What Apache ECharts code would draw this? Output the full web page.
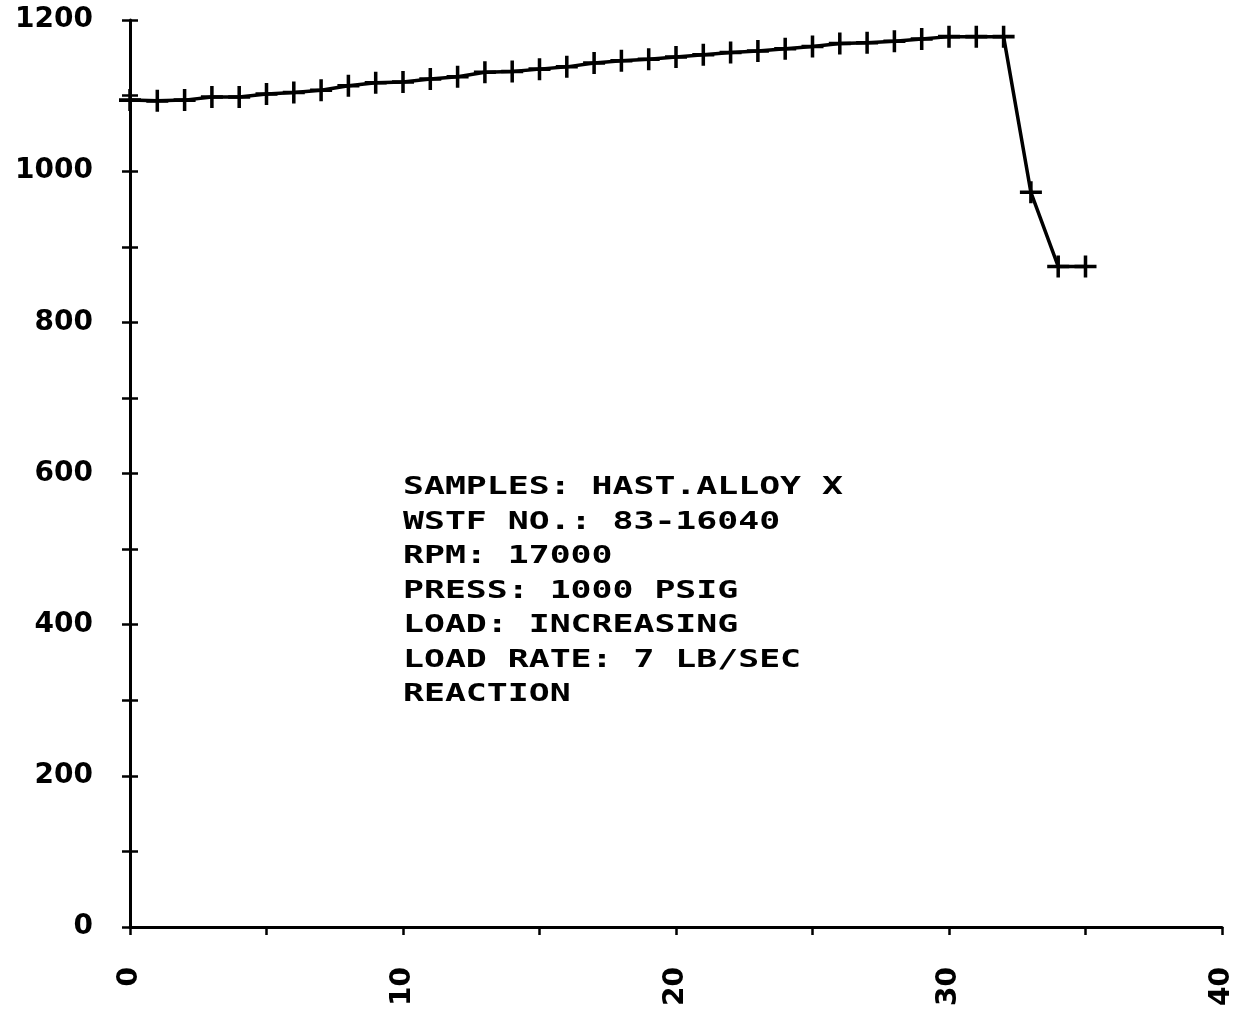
<!DOCTYPE html>
<html>
<head>
<meta charset="utf-8">
<title>Hastelloy X reaction</title>
<script src="https://cdn.jsdelivr.net/npm/echarts@6/dist/echarts.min.js"></script>
<style>
  html, body { margin: 0; padding: 0; background: #fff; }
  #chart { width: 1247px; height: 1014px; }
</style>
</head>
<body>
<div id="chart"></div>
<script>
// readings, one per step
const xValues = [0, 1, 2, 3, 4, 5, 6, 7, 8, 9, 10, 11, 12, 13, 14, 15, 16, 17,
                 18, 19, 20, 21, 22, 23, 24, 25, 26, 27, 28, 29, 30, 31, 32, 33, 34, 35];
const yValues = [1094, 1093, 1094, 1098, 1098, 1102, 1104, 1107, 1113, 1117, 1118, 1122,
                 1125, 1131, 1132, 1135, 1138, 1143, 1146, 1148, 1151, 1154, 1157, 1159,
                 1162, 1165, 1169, 1170, 1172, 1175, 1178, 1178, 1178, 972, 874, 874];

const xTickLabels = [0, 10, 20, 30, 40];
const yTickLabels = [0, 200, 400, 600, 800, 1000, 1200];

const noteLines = [
    'SAMPLES: HAST.ALLOY X',
    'WSTF NO.: 83-16040',
    'RPM: 17000',
    'PRESS: 1000 PSIG',
    'LOAD: INCREASING',
    'LOAD RATE: 7 LB/SEC',
    'REACTION'
];

const labelFont = {
    color: '#000',
    fontFamily: 'DejaVu Sans',
    fontWeight: 'bold',
    fontSize: 28
};

const chart = echarts.init(document.getElementById('chart'));

chart.setOption({
    animation: false,
    backgroundColor: '#fff',
    grid: { left: 130, right: 25, top: 20, bottom: 87, containLabel: false },
    xAxis: {
        type: 'value',
        min: 0,
        max: 40,
        interval: 5,
        splitLine: { show: false },
        axisLine: { lineStyle: { color: '#000', width: 3 } },
        axisTick: { length: 8, lineStyle: { color: '#000', width: 2.5 } },
        axisLabel: Object.assign({
            rotate: 90,
            margin: 40,
            formatter: v => (xTickLabels.indexOf(v) >= 0 ? String(v) : '')
        }, labelFont)
    },
    yAxis: [{
        type: 'value',
        min: 0,
        max: 1200,
        interval: 100,
        splitLine: { show: false },
        axisLine: { show: true, lineStyle: { color: '#000', width: 3 } },
        axisTick: { show: true, length: 8, lineStyle: { color: '#000', width: 2.5 } },
        axisLabel: Object.assign({
            margin: 37,
            formatter: v => (yTickLabels.indexOf(v) >= 0 ? String(v) : '')
        }, labelFont)
    }, {
        // inner half of the crossing ticks
        type: 'value',
        position: 'left',
        min: 0,
        max: 1200,
        interval: 100,
        splitLine: { show: false },
        axisLine: { show: false },
        axisTick: { show: true, inside: true, length: 8, lineStyle: { color: '#000', width: 2.5 } },
        axisLabel: { show: false }
    }],
    series: [{
        type: 'line',
        data: xValues.map((x, i) => [x, yValues[i]]),
        symbol: 'path://M-10,-1.6H10V1.6H-10Z M-1.6,-10H1.6V10H-1.6Z',
        symbolSize: 22,
        lineStyle: { color: '#000', width: 3.5 },
        itemStyle: { color: '#000' }
    }],
    graphic: [{
        type: 'text',
        x: 403,
        y: 471,
        scaleX: 1.45,
        style: {
            text: noteLines.join('\n'),
            font: 'bold 24px "DejaVu Sans Mono"',
            lineHeight: 34.5,
            fill: '#000',
            verticalAlign: 'top'
        }
    }]
});
</script>
</body>
</html>
